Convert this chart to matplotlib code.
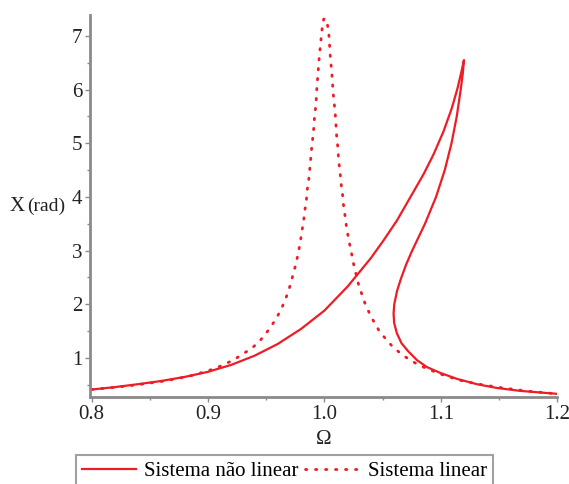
import matplotlib
matplotlib.use("Agg")
import matplotlib.pyplot as plt
from matplotlib.ticker import MultipleLocator, FixedLocator
from matplotlib.lines import Line2D

# Nonlinear response: upper branch up to the jump point, then back down
# along the unstable branch and out along the lower branch.
omega_nl = [0.800, 0.820, 0.840, 0.860, 0.880, 0.900, 0.920, 0.940, 0.960, 0.980,
            1.000, 1.020, 1.040, 1.0509, 1.0624, 1.0738, 1.0852, 1.0938, 1.1024,
            1.1095, 1.1144, 1.1181, 1.1200,
            1.1190, 1.1172, 1.1138, 1.1093, 1.1035, 1.0960, 1.0865, 1.0755,
            1.0705, 1.0662, 1.0625, 1.0601, 1.0595, 1.0600, 1.0623, 1.0664,
            1.0722, 1.0795, 1.0880, 1.0996, 1.1138, 1.1310, 1.1481, 1.1682,
            1.1854, 1.2000]
x_nl = [0.41, 0.455, 0.51, 0.57, 0.645, 0.74, 0.87, 1.04, 1.26, 1.54,
        1.88, 2.33, 2.86, 3.19, 3.56, 3.99, 4.42, 4.79, 5.22,
        5.65, 6.02, 6.36, 6.55,
        6.30, 6.00, 5.50, 5.00, 4.50, 4.00, 3.50, 3.00,
        2.75, 2.50, 2.25, 2.00, 1.83, 1.65, 1.46, 1.27,
        1.12, 0.96, 0.83, 0.72, 0.61, 0.51, 0.44, 0.385,
        0.355, 0.33]

# Linear response
omega_lin = [0.800, 0.820, 0.840, 0.860, 0.875, 0.889, 0.898, 0.906, 0.914, 0.922,
             0.929, 0.937, 0.943, 0.949, 0.954, 0.9585, 0.9628, 0.9665, 0.9694,
             0.9717, 0.9740, 0.9762, 0.9780, 0.9794, 0.9808, 0.9822, 0.9833,
             0.9845, 0.9853, 0.9865, 0.9874, 0.9882, 0.9888, 0.9899, 0.9908,
             0.9914, 0.9923, 0.9929, 0.9934, 0.9954, 0.9971, 0.9980, 0.9994,
             1.0005, 1.0026, 1.0039, 1.0050, 1.0065, 1.0077, 1.0086, 1.0094,
             1.0100, 1.0105, 1.0114, 1.0120, 1.0128, 1.0137, 1.0146, 1.0157,
             1.0165, 1.0177, 1.0189, 1.0203, 1.0220, 1.0237, 1.0254, 1.0294,
             1.0323, 1.0352, 1.0388, 1.0429, 1.0475, 1.0529, 1.0586, 1.0652,
             1.0724, 1.0801, 1.0880, 1.0996, 1.1150, 1.1300, 1.1500, 1.1750,
             1.2000]
x_lin = [0.41, 0.45, 0.50, 0.56, 0.62, 0.685, 0.75, 0.80, 0.88, 0.96,
         1.06, 1.17, 1.28, 1.43, 1.58, 1.73, 1.90, 2.09, 2.26,
         2.44, 2.62, 2.81, 3.00, 3.17, 3.37, 3.56, 3.76,
         3.93, 4.13, 4.31, 4.50, 4.69, 4.85, 5.07, 5.26,
         5.45, 5.63, 5.78, 5.98, 6.55, 6.93, 7.12, 7.31,
         7.33, 7.22, 7.03, 6.65, 6.28, 5.91, 5.72, 5.53,
         5.33, 5.15, 4.96, 4.78, 4.59, 4.41, 4.21, 4.03,
         3.84, 3.66, 3.46, 3.28, 3.09, 2.91, 2.72, 2.37,
         2.18, 2.00, 1.83, 1.66, 1.49, 1.35, 1.21, 1.09,
         0.976, 0.88, 0.80, 0.70, 0.59, 0.52, 0.45, 0.38,
         0.33]

x_ticks = [0.8, 0.9, 1.0, 1.1, 1.2]
x_ticklabels = ["0.8", "0.9", "1.0", "1.1", "1.2"]
y_ticks = [1, 2, 3, 4, 5, 6, 7]

RED = "#ee1c25"
GRAY = "#8a8a8a"
INK = "#222222"
SERIF = "Liberation Serif"

fig = plt.figure(figsize=(5.69, 4.84), dpi=100)
ax = fig.add_axes([0.158, 0.180, 0.821, 0.789])

ax.plot(omega_nl, x_nl, color=RED, lw=1.6, solid_joinstyle="round")
ax.plot(omega_lin, x_lin, color=RED, lw=2.0,
        linestyle=(0, (0.5, 3.1)), dash_capstyle="round")

ax.set_xlim(0.7985, 1.2)
ax.set_ylim(0.273, 7.39)

for side in ("top", "right"):
    ax.spines[side].set_visible(False)
for side in ("left", "bottom"):
    ax.spines[side].set_color(GRAY)
    ax.spines[side].set_linewidth(2.0)

ax.xaxis.set_major_locator(FixedLocator(x_ticks))
ax.set_xticklabels(x_ticklabels)
ax.xaxis.set_minor_locator(MultipleLocator(0.05))
ax.yaxis.set_major_locator(FixedLocator(y_ticks))
ax.yaxis.set_minor_locator(MultipleLocator(0.5))

ax.tick_params(which="both", direction="out", color=GRAY, width=1.0)
ax.tick_params(which="major", length=3.5, labelsize=15, pad=2)
ax.tick_params(which="minor", length=2.5)
for lab in ax.get_xticklabels() + ax.get_yticklabels():
    lab.set_fontfamily(SERIF)
    lab.set_color(INK)

ax.set_xlabel("\u03a9", fontsize=15, fontfamily=SERIF, labelpad=5, color=INK)
ax.text(-0.14, 3.82, "X", transform=ax.get_yaxis_transform(), fontsize=15,
        fontfamily=SERIF, ha="right", va="center", color=INK)
ax.text(-0.134, 3.82, "(rad)", transform=ax.get_yaxis_transform(), fontsize=14,
        fontfamily=SERIF, ha="left", va="center", color=INK)

handles = [Line2D([], [], color=RED, lw=1.6),
           Line2D([], [], color=RED, lw=2.0, linestyle=(0, (0.5, 3.1)),
                  dash_capstyle="round")]
leg = fig.legend(handles, ["Sistema n\u00e3o linear", "Sistema linear"],
                 loc="upper left", bbox_to_anchor=(0.133, 0.060), ncol=2,
                 frameon=True, fancybox=False, prop={"family": SERIF, "size": 15},
                 handlelength=2.6, handletextpad=0.4, columnspacing=0.3,
                 borderpad=0.3, borderaxespad=0)
leg.get_frame().set_edgecolor(GRAY)
leg.get_frame().set_linewidth(1.5)

fig.savefig("out.png", dpi=100)
